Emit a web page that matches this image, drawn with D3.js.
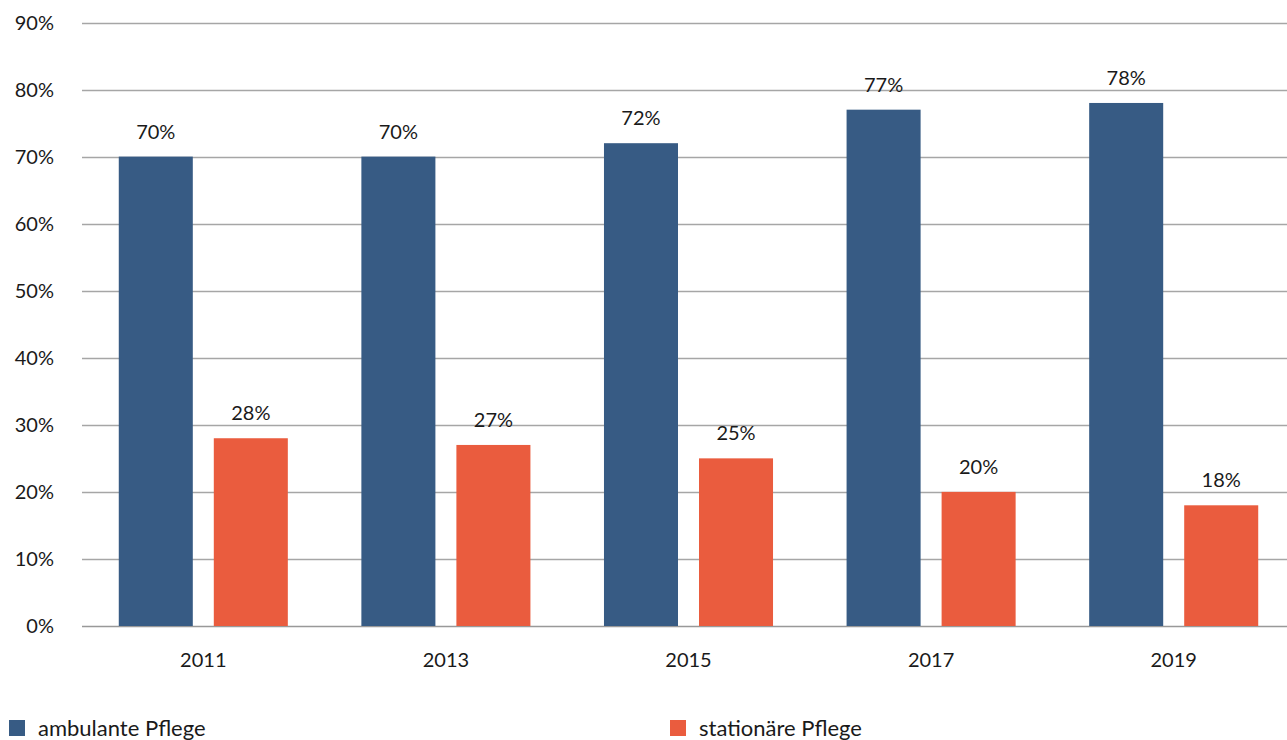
<!DOCTYPE html>
<html><head><meta charset="utf-8">
<script src="https://cdn.jsdelivr.net/npm/d3@7"></script>
<style>body{margin:0;background:#fff;overflow:hidden}svg{display:block}text{font-family:Lato,"Open Sans",sans-serif;fill:#1a1a1a}</style>
</head><body>
<svg id="c" width="1287" height="740"></svg>
<script>
const years = ["2011","2013","2015","2017","2019"];
const seriesNames = ["ambulante Pflege","stationäre Pflege"];
const ambulant = [70,70,72,77,78];
const stationaer = [28,27,25,20,18];
const yTicks = [0,10,20,30,40,50,60,70,80,90];
const colors = ["#375b84","#ea5c3e"];

const svg = d3.select("#c");
const x0 = d3.scaleBand().domain(years).range([82,1295]).padding(0);
const x1 = d3.scaleBand().domain(seriesNames).range([0,x0.bandwidth()]).paddingInner(0.221).paddingOuter(0.387);
const y = d3.scaleLinear().domain([0,90]).range([626,22.5]);

// gridlines
svg.append("g").selectAll("line").data(yTicks).join("line")
  .attr("x1",82).attr("x2",1287)
  .attr("y1",d=>Math.round(y(d))+0.5).attr("y2",d=>Math.round(y(d))+0.5)
  .attr("stroke",d=>d===0?"#999":"#a6a6a6").attr("stroke-width",1.3);

// y labels
svg.append("g").selectAll("text").data(yTicks).join("text")
  .attr("x",54).attr("y",d=>y(d)).attr("dy","0.36em").attr("text-anchor","end")
  .style("font-size","20px").text(d=>d+"%");

const data = years.map((yr,i)=>({yr,vals:[ambulant[i],stationaer[i]]}));
const g = svg.append("g").selectAll("g").data(data).join("g")
  .attr("transform",d=>`translate(${x0(d.yr)},0)`);
g.selectAll("rect").data(d=>d.vals.map((v,j)=>({v,s:seriesNames[j],j}))).join("rect")
  .attr("x",d=>x1(d.s)).attr("width",x1.bandwidth())
  .attr("y",d=>y(d.v)).attr("height",d=>y(0)-y(d.v))
  .attr("fill",d=>colors[d.j]);
g.selectAll("text.v").data(d=>d.vals.map((v,j)=>({v,s:seriesNames[j],j}))).join("text")
  .attr("class","v").attr("x",d=>x1(d.s)+x1.bandwidth()/2).attr("y",d=>y(d.v)-18)
  .attr("text-anchor","middle").style("font-size","20px").text(d=>d.v+"%");

// x labels
svg.append("g").selectAll("text").data(years).join("text")
  .attr("x",d=>x0(d)+x0.bandwidth()/2).attr("y",667).attr("text-anchor","middle")
  .style("font-size","20px").text(d=>d);

// legend
const legX = [9,670];
const lg = svg.append("g").selectAll("g").data(seriesNames).join("g")
  .attr("transform",(d,i)=>`translate(${legX[i]},720)`);
lg.append("rect").attr("width",16).attr("height",16).attr("fill",(d,i)=>colors[i]);
lg.append("text").attr("x",29).attr("y",16).style("font-size","22px").text(d=>d);
</script>
</body></html>
